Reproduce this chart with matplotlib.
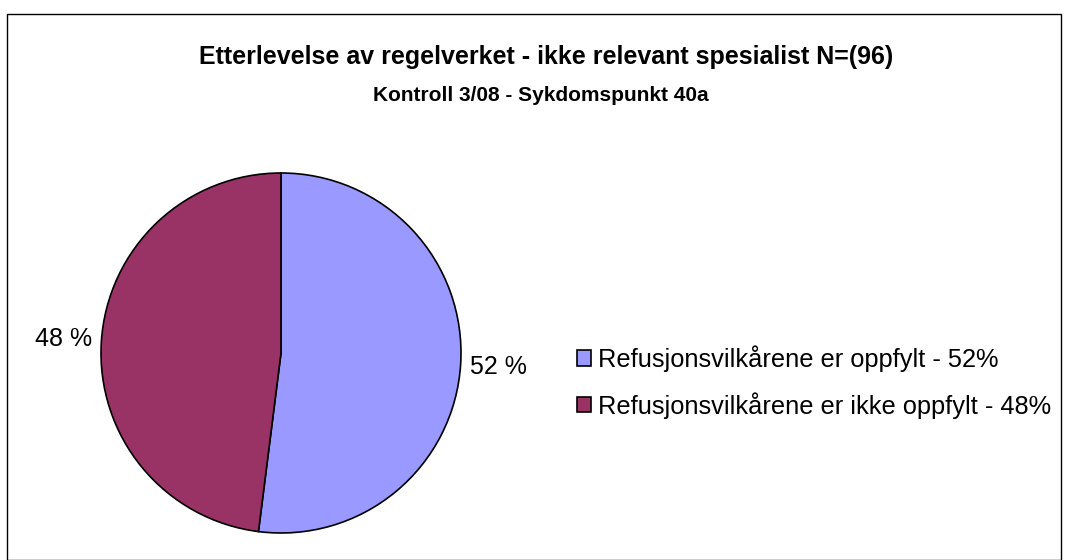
import matplotlib
matplotlib.use("Agg")
import matplotlib.pyplot as plt
from matplotlib.patches import Rectangle

# --- dati ---
labels = [
    "Refusjonsvilkårene er oppfylt - 52%",
    "Refusjonsvilkårene er ikke oppfylt - 48%",
]
values = [52, 48]
colors = ["#9999FF", "#993366"]

title = "Etterlevelse av regelverket - ikke relevant spesialist N=(96)"
subtitle = "Kontroll 3/08 - Sykdomspunkt 40a"

plt.rcParams["font.family"] = ["Liberation Sans", "DejaVu Sans"]

W, H = 1069, 560
fig = plt.figure(figsize=(W / 100, H / 100), dpi=100)
fig.patch.set_facecolor("white")

# --- cornice ---
fig.add_artist(
    Rectangle((7 / W, 0), 1054 / W, 546 / H, transform=fig.transFigure,
              fill=False, edgecolor="black", linewidth=1.0)
)

# --- titoli ---
fig.text(546 / W, 1 - 57 / H, title, ha="center", va="center",
         fontsize=18, fontweight="bold")
fig.text(541 / W, 1 - 95 / H, subtitle, ha="center", va="center",
         fontsize=15, fontweight="bold")

# --- torta ---
ax = fig.add_axes([0, 0, 1, 1])

wedges, texts, autotexts = ax.pie(
    values,
    colors=colors,
    startangle=90,
    counterclock=False,
    center=(281, H - 353),
    radius=180,
    autopct="%1.0f %%",
    pctdistance=1.21,
    wedgeprops=dict(edgecolor="black", linewidth=1.2),
    textprops=dict(fontsize=18),
    frame=True,
)
ax.set_xlim(0, W)
ax.set_ylim(0, H)
ax.axis("off")

# --- legenda ---
leg = fig.legend(
    wedges, labels,
    loc="center left",
    bbox_to_anchor=(554 / W, 1 - 382 / H),
    frameon=False,
    fontsize=18.3,
    handlelength=0.55,
    handleheight=0.55,
    handletextpad=0.3,
    labelspacing=0.78,
)

fig.savefig("out.png", dpi=100, facecolor="white")
